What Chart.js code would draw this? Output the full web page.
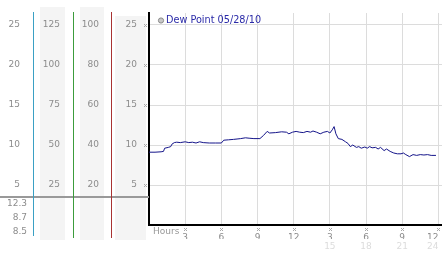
<!DOCTYPE html>
<html>
<head>
<meta charset="utf-8">
<script src="https://cdn.jsdelivr.net/npm/chart.js@4/dist/chart.umd.min.js"></script>
<style>
html,body{margin:0;padding:0;background:#fff;}
#c{display:block;}
</style>
</head>
<body>
<canvas id="c" width="442" height="253"></canvas>
<script>
// ---- data ----
const seriesLabel = 'Dew Point 05/28/10';
const hours = [0,0.5,1.0,1.2,1.3,1.6,1.8,1.9,2.1,2.3,2.6,3.0,3.3,3.6,3.9,4.2,4.5,5.0,5.5,6.0,6.2,6.6,7.0,7.3,7.6,8.0,8.3,8.7,9.2,9.5,9.8,10.0,10.5,11.0,11.4,11.6,11.9,12.2,12.5,12.8,13.1,13.4,13.6,13.9,14.2,14.5,14.8,15.0,15.2,15.35,15.5,15.7,16.0,16.3,16.5,16.7,16.9,17.2,17.4,17.6,17.9,18.1,18.3,18.5,18.8,19.0,19.2,19.5,19.7,20.0,20.3,20.6,20.9,21.1,21.3,21.6,21.9,22.2,22.5,22.8,23.1,23.4,23.8];
const dewPoint = [9.1,9.1,9.15,9.2,9.6,9.7,9.8,10.1,10.3,10.35,10.3,10.4,10.3,10.35,10.25,10.4,10.3,10.25,10.25,10.25,10.6,10.65,10.7,10.75,10.8,10.9,10.85,10.8,10.8,11.2,11.7,11.5,11.55,11.65,11.6,11.4,11.6,11.7,11.6,11.55,11.7,11.6,11.75,11.6,11.4,11.6,11.7,11.5,11.9,12.3,11.4,10.8,10.7,10.4,10.2,9.8,10.0,9.7,9.8,9.6,9.75,9.6,9.8,9.65,9.7,9.5,9.7,9.3,9.5,9.2,9.0,8.9,8.9,9.0,8.8,8.55,8.8,8.7,8.8,8.75,8.8,8.7,8.7];
const xTicks = [3,6,9,12,15,18,21,24];
const xTickLabels = ['3','6','9','12','3','6','9','12'];
const x2Ticks = [15,18,21,24];
const x2TickLabels = ['15','18','21','24'];
const yTicks = [5,10,15,20,25];
const colBTicks = [25,50,75,100,125];
const colCTicks = [20,40,60,80,100];
const summaryLabels = ['12.3','8.7','8.5'];

const FONT = {family:'DejaVu Sans', size:9};
const LABEL_COLOR = '#8c8c8c';

const points = hours.map((h,i)=>({x:h, y:dewPoint[i]}));

function fixW(w){ return s => { s.width = w; s.paddingTop = 0; s.paddingBottom = 0; }; }
function fixH(h){ return s => { s.height = h; s.paddingLeft = 0; s.paddingRight = 0; }; }
function setTicks(arr){ return s => { s.ticks = arr.map(v=>({value:v})); }; }
// a blank tick at 0 so that only the last label gets right-aligned ('inner')
function setTicksX(arr){ return s => { s.ticks = [0].concat(arr).map(v=>({value:v})); }; }
function labelFrom(ticks, labels){ return v => { const i = ticks.indexOf(v); return i < 0 ? '' : labels[i]; }; }

function mark(ctx, x, y){
  ctx.fillStyle = '#aaa';
  [[0,0],[2,0],[1,1],[0,2],[2,2]].forEach(p=>ctx.fillRect(x+p[0], y+p[1], 1, 1));
}

const panelPlugin = {
  id:'panels',
  beforeDraw(chart){
    const ctx = chart.ctx, s = chart.scales, ca = chart.chartArea;
    ctx.save();
    ctx.fillStyle = '#fff';
    ctx.fillRect(0,0,chart.width,chart.height);
    ctx.fillStyle = '#f4f4f4';
    ctx.fillRect(s.yB.left+7, 7, 25, 233);
    ctx.fillRect(s.yC.left+7, 7, 24, 233);
    ctx.fillRect(s.y.left+4, 16, 31, 224);
    ctx.fillStyle = '#fff';
    ctx.fillRect(ca.left, ca.top, ca.right-ca.left, ca.bottom-ca.top);
    ctx.restore();
  },
  afterDraw(chart){
    const ctx = chart.ctx, s = chart.scales;
    ctx.save();
    // separator lines
    ctx.fillStyle = '#999';
    ctx.fillRect(0, 196, s.y.right, 2);
    ctx.fillStyle = '#3aa0c4'; ctx.fillRect(Math.round(s.yA.right), 12, 1, 224);
    ctx.fillStyle = '#3c9c3c'; ctx.fillRect(Math.round(s.yB.right), 12, 1, 226);
    ctx.fillStyle = '#a83232'; ctx.fillRect(Math.round(s.yC.right), 12, 1, 226);
    // summary labels
    ctx.font = '9px "DejaVu Sans"';
    ctx.fillStyle = LABEL_COLOR;
    ctx.textAlign = 'right';
    ctx.textBaseline = 'middle';
    const sy = [204, 218, 231.5];
    summaryLabels.forEach((t,i)=>ctx.fillText(t, 27, sy[i]));
    // tick marks glyphs
    yTicks.forEach(v=>mark(ctx, 144, Math.round(s.y.getPixelForValue(v))-1));
    xTicks.forEach(v=>mark(ctx, Math.round(s.x.getPixelForValue(v))-1, 228));
    // Hours
    ctx.textAlign = 'left';
    ctx.fillStyle = '#999';
    ctx.fillText('Hours', 153, 231.5);
    // legend
    const lx = s.x.left + 12, ly = 20.5;
    ctx.beginPath();
    ctx.arc(lx, ly, 2.6, 0, Math.PI*2);
    ctx.fillStyle = '#c8c8c8'; ctx.fill();
    ctx.strokeStyle = '#8a8a8a'; ctx.lineWidth = 1; ctx.stroke();
    ctx.font = '9.7px "DejaVu Sans"';
    ctx.fillStyle = '#2a2aa8';
    ctx.fillText(chart.data.datasets[0].label, lx + 5, ly);
    ctx.restore();
  }
};

new Chart(document.getElementById('c'), {
  type:'line',
  data:{datasets:[{label:seriesLabel, data:points, borderColor:'#15158a', borderWidth:1, pointRadius:0, tension:0, fill:false}]},
  options:{
    responsive:false, animation:false, devicePixelRatio:1,
    layout:{padding:{top:13,left:0,right:0,bottom:0}},
    plugins:{legend:{display:false}, tooltip:{enabled:false}},
    scales:{
      x:{type:'linear', position:'bottom', min:0, max:24.3, weight:0,
        afterBuildTicks:setTicksX(xTicks), afterFit:fixH(14),
        grid:{color:(c)=>c.tick && c.tick.value===0 ? 'rgba(0,0,0,0)' : '#dcdcdc', drawTicks:false},
        border:{color:'#000', width:2},
        ticks:{autoSkip:false, maxRotation:0, padding:7, align:'inner', font:FONT, color:LABEL_COLOR,
          callback:labelFrom(xTicks, xTickLabels)}},
      x2:{type:'linear', position:'bottom', min:0, max:24.3, weight:1,
        afterBuildTicks:setTicksX(x2Ticks), afterFit:fixH(14),
        grid:{display:false, drawTicks:false}, border:{display:false},
        ticks:{autoSkip:false, maxRotation:0, padding:2, align:'inner', font:FONT, color:'#dcdcdc',
          callback:labelFrom(x2Ticks, x2TickLabels)}},
      y:{type:'linear', position:'left', min:0, max:26.5, weight:1,
        afterBuildTicks:setTicks(yTicks), afterFit:fixW(38),
        grid:{color:'#dcdcdc', drawTicks:false},
        border:{color:'#000', width:2},
        ticks:{padding:12, font:FONT, color:LABEL_COLOR}},
      yC:{type:'linear', position:'left', min:0, max:106, weight:2,
        afterBuildTicks:setTicks(colCTicks), afterFit:fixW(38),
        grid:{display:false, drawTicks:false}, border:{display:false},
        ticks:{padding:12, font:FONT, color:LABEL_COLOR}},
      yB:{type:'linear', position:'left', min:0, max:132.5, weight:3,
        afterBuildTicks:setTicks(colBTicks), afterFit:fixW(40),
        grid:{display:false, drawTicks:false}, border:{display:false},
        ticks:{padding:13, font:FONT, color:LABEL_COLOR}},
      yA:{type:'linear', position:'left', min:0, max:26.5, weight:4,
        afterBuildTicks:setTicks(yTicks), afterFit:fixW(33),
        grid:{display:false, drawTicks:false}, border:{display:false},
        ticks:{padding:13, font:FONT, color:LABEL_COLOR}}
    }
  },
  plugins:[panelPlugin]
});
</script>
</body>
</html>
